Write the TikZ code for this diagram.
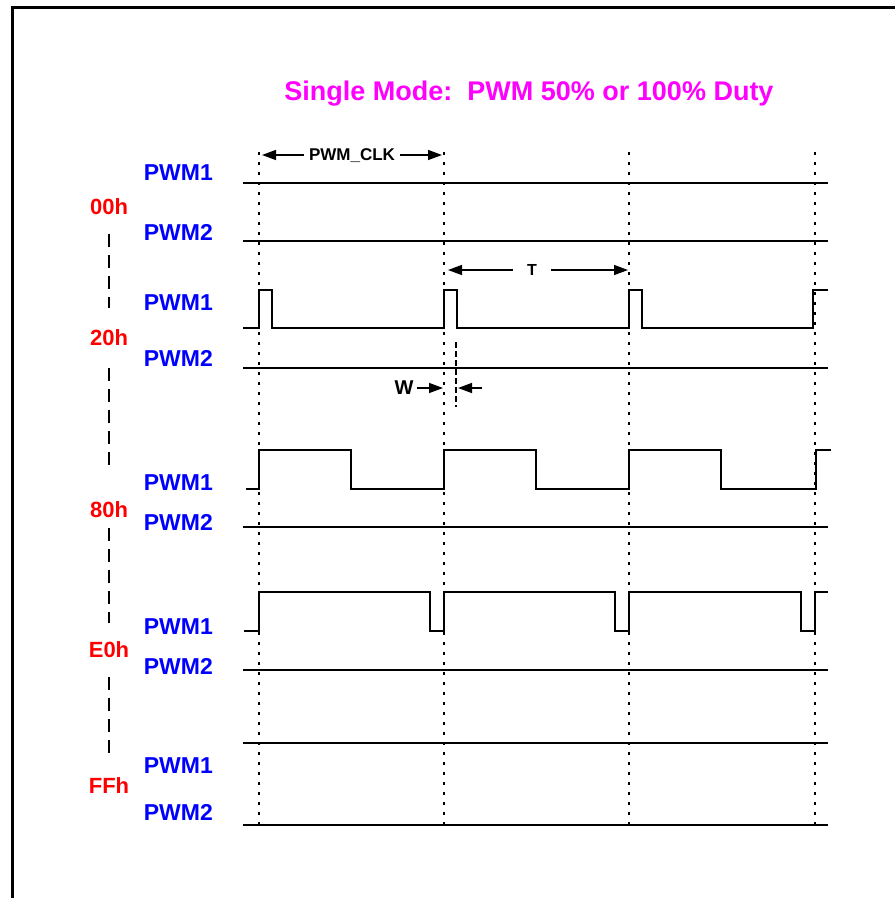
\documentclass[tikz,border=0pt]{standalone}
\usepackage{fontspec}
\setmainfont{Liberation Sans}
\usepackage{tikz}
\usetikzlibrary{arrows.meta, positioning}
\definecolor{pwmBlue}{HTML}{0000FF}
\definecolor{grpRed}{HTML}{FF0000}
\definecolor{titleMag}{HTML}{FF00FF}

\begin{document}
\begin{tikzpicture}[x=1pt, y=-1pt,
    sig/.style={line width=1.8pt},
    clkline/.style={line width=1.8pt, dash pattern=on 2.5pt off 7.5pt},
    pwmlbl/.style={text=pwmBlue, anchor=east, inner sep=0pt,
                   font=\fontsize{23}{26}\selectfont\bfseries},
    grplbl/.style={text=grpRed, inner sep=0pt,
                   font=\fontsize{22}{26}\selectfont\bfseries},
    grpdash/.style={line width=1.8pt, dash pattern=on 13pt off 8pt},
    dim/.style={line width=1.4pt, -{Triangle[length=14pt, width=10pt]}}]
    \useasboundingbox (0,0) rectangle (895,898);
    % frame, only top and left edge inside the page
    \draw[line width=3pt] (12,7) rectangle (990,990);
    \node[text=titleMag, anchor=base, font=\fontsize{27}{30}\selectfont\bfseries]
      (title) at (529,100) {Single Mode:\ \ PWM 50\% or 100\% Duty};

    % PWM_CLK edges
    \foreach \x in {259,444,629,815} \draw[clkline] (\x,152) -- (\x,828);

    % group labels
    \foreach \name/\txt/\y in {g00/00h/207, g20/20h/338, g80/80h/510,
                               gE0/E0h/650, gFF/FFh/786}
      \node[grplbl] (\name) at (109,\y) {\txt};
    \foreach \a/\b/\sa/\sb in {g00/g20/27/30, g20/g80/30/39,
                               g80/gE0/18/27, gE0/gFF/27/29}
      \draw[grpdash, shorten <=\sa pt, shorten >=\sb pt]
        (\a.center) -- (\b.center);

    % channel labels
    \foreach \name/\txt/\y in {a1/PWM1/173, a2/PWM2/232, b1/PWM1/303, b2/PWM2/358,
                               c1/PWM1/483, c2/PWM2/522, d1/PWM1/627, d2/PWM2/666,
                               e1/PWM1/766, e2/PWM2/812}
      \node[pwmlbl] (\name) at (213,\y) {\txt};

    % 00h: both low
    \draw[sig] (243,183) -- (828,183);
    \draw[sig] (243,241) -- (828,241);
    % 20h: narrow pulses
    \draw[sig] (243,328) \foreach \x in {259,444,629}
      { -- (\x,328) -- (\x,290) -- (\x+13,290) -- (\x+13,328) }
      -- (813,328) -- (813,290) -- (828,290);
    \draw[sig] (243,368) -- (828,368);
    % 80h: 50% duty
    \draw[sig] (246,489) \foreach \x in {259,444,629}
      { -- (\x,489) -- (\x,450) -- (\x+92,450) -- (\x+92,489) }
      -- (816,489) -- (816,450) -- (831,450);
    \draw[sig] (243,527) -- (828,527);
    % E0h: narrow gaps
    \draw[sig] (244,631) -- (259,631) -- (259,592) \foreach \x in {430,615,801}
      { -- (\x,592) -- (\x,631) -- (\x+14,631) -- (\x+14,592) }
      -- (828,592);
    \draw[sig] (243,670) -- (828,670);
    % FFh: both high
    \draw[sig] (243,743) -- (828,743);
    \draw[sig] (243,825) -- (828,825);

    % PWM_CLK span
    \node[inner sep=5pt, font=\fontsize{17}{20}\selectfont\bfseries]
      (clkLbl) at (352,156) {PWM\_CLK};
    \coordinate (clkL) at (262,155);
    \coordinate (clkR) at (442,155);
    \draw[dim] (clkLbl.west |- clkL) -- (clkL);
    \draw[dim] (clkLbl.east |- clkR) -- (clkR);

    % period T
    \node[inner xsep=14pt, font=\fontsize{16}{19}\selectfont\bfseries]
      (tLbl) at (532,270) {T};
    \coordinate (tL) at (448,270);
    \coordinate (tR) at (628,270);
    \draw[dim] (tLbl.west) -- (tL);
    \draw[dim] (tLbl.east) -- (tR);

    % pulse width W
    \draw[line width=1.2pt, dash pattern=on 6pt off 3pt] (456,342) -- (456,407);
    \node[inner xsep=3pt, font=\fontsize{20}{23}\selectfont\bfseries]
      (wLbl) at (404,388) {W};
    \coordinate (wR) at (443,388);
    \coordinate (wTail) at (482,388);
    \coordinate (wTip) at (458,388);
    \draw[dim] (wLbl.east) -- (wR);
    \draw[dim] (wTail) -- (wTip);
\end{tikzpicture}
\end{document}
